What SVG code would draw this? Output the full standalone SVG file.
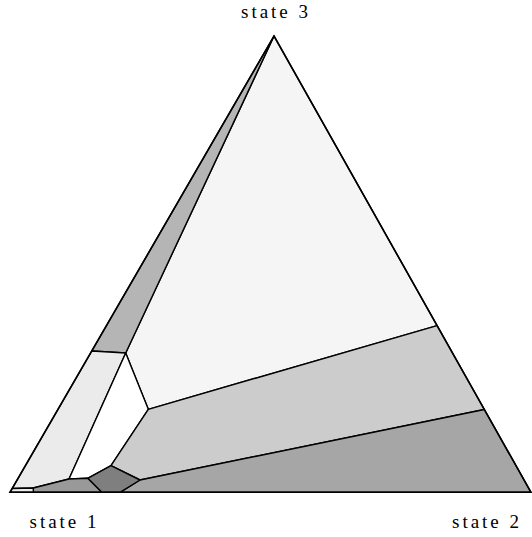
<svg xmlns="http://www.w3.org/2000/svg" width="532" height="537" viewBox="0 0 532 537">
<style>
.r{stroke:#000;stroke-width:1.4;stroke-linejoin:round}
.t{font-family:"Liberation Serif","Times New Roman",serif;font-size:19px;fill:#000}
</style>
<rect width="532" height="537" fill="#fff"/>
<g id="regions">
<polygon id="top" class="r" fill="#f5f5f5" points="274,36 437.1,325.6 148.3,409.3 125.7,353"/>
<polygon id="strip-dark" class="r" fill="#b5b5b5" points="274,36 125.7,353 91.8,351"/>
<polygon id="strip-light" class="r" fill="#ebebeb" points="91.8,351 125.7,353 69,479 33.3,488 12.2,488.5"/>
<polygon id="white" class="r" fill="#ffffff" points="125.7,353 148.3,409.3 111,465.7 87.7,478.3 69,479"/>
<polygon id="middle" class="r" fill="#cccccc" points="437.1,325.6 484.4,409.5 140,480 111,465.7 148.3,409.3"/>
<polygon id="bottom-right" class="r" fill="#a6a6a6" points="484.4,409.5 531,492.3 120,492.3 140,480"/>
<polygon id="pentagon" class="r" fill="#7f7f7f" points="111,465.7 140,480 120,492.3 101.7,492.3 87.7,478.3"/>
<polygon id="bottom-left" class="r" fill="#999999" points="33.3,488 69,479 87.7,478.3 101.7,492.3 33.3,492.3"/>
<polygon id="corner" class="r" fill="#ebebeb" points="12.2,488.5 33.3,488 33.3,492.3 10,492.3"/>
</g>
<g id="connectors">
<polygon fill="none" stroke="#000" stroke-width="1.6" stroke-linejoin="miter" points="274,36 531,492.3 10,492.3"/>
</g>
<g id="labels">
<text class="t" x="241" y="18" textLength="67" lengthAdjust="spacing">state 3</text>
<text class="t" x="29.5" y="528" textLength="67" lengthAdjust="spacing">state 1</text>
<text class="t" x="452" y="528" textLength="67" lengthAdjust="spacing">state 2</text>
</g>
</svg>
